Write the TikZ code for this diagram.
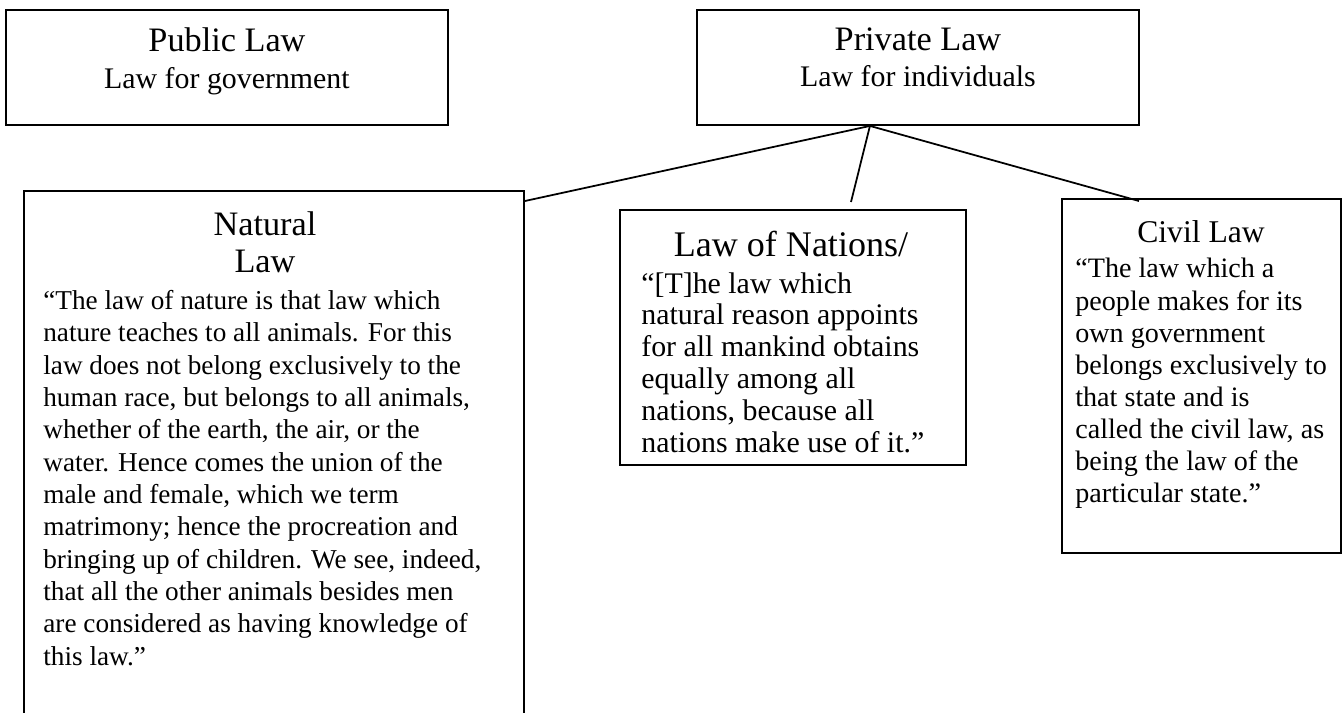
\documentclass[tikz,border=0pt]{standalone}
\usepackage{fontspec}
\setmainfont{Liberation Serif}
\usetikzlibrary{calc}
\newcommand{\ttlfont}{\fontsize{19.5}{21}\selectfont}
\newcommand{\subfont}{\fontsize{17}{20}\selectfont}

\begin{document}
\begin{tikzpicture}[
  lawbox/.style={draw,line width=1.1pt,anchor=north west,inner sep=0pt},
  topbox/.style={lawbox,minimum width=8.84cm,minimum height=2.3cm},
  lawtitle/.style={anchor=north,inner sep=0pt,align=center,font=\ttlfont},
  lawtext/.style={anchor=north west,inner sep=0pt,align=left}
]
\useasboundingbox (0,0) rectangle (26.84,-14.26);
\clip (0,0) rectangle (26.84,-14.26);

% two kinds of law
\node[topbox] (pub) at (0.1,-0.18) {};
\node[lawtitle] (pubT) at ([yshift=-0.36cm]pub.north) {Public Law\\{\subfont Law for government}};
\node[topbox] (priv) at (13.92,-0.18) {};
\node[lawtitle] (privT) at ([yshift=-0.36cm]priv.north) {Private Law\\{\subfont Law for individuals}};

% natural law (runs off the page)
\node[lawbox,minimum width=10cm,minimum height=10.8cm] (nat) at (0.46,-3.8) {};
\node[lawtitle] (natT) at (5.3,-4.22) {Natural\\Law};
\node[lawtext,font=\fontsize{15.5}{18.4}\selectfont] (natB) at (0.86,-5.8)
 {``The law of nature is that law which\\
  nature teaches to all animals. For this\\
  law does not belong exclusively to the\\
  human race, but belongs to all animals,\\
  whether of the earth, the air, or the\\
  water. Hence comes the union of the\\
  male and female, which we term\\
  matrimony; hence the procreation and\\
  bringing up of children. We see, indeed,\\
  that all the other animals besides men\\
  are considered as having knowledge of\\
  this law.''};

% law of nations
\node[lawbox,minimum width=6.92cm,minimum height=5.1cm] (gent) at (12.38,-4.18) {};
\node[lawtitle,font=\fontsize{20.5}{22}\selectfont] (gentT) at (15.82,-4.62) {Law of Nations/};
\node[lawtext,font=\fontsize{17}{18.1}\selectfont] (gentB) at (12.82,-5.44)
 {``[T]he law which\\
  natural reason appoints\\
  for all mankind obtains\\
  equally among all\\
  nations, because all\\
  nations make use of it.''};

% civil law
\node[lawbox,minimum width=5.58cm,minimum height=7.08cm] (civ) at (21.22,-3.96) {};
\node[lawtitle,font=\fontsize{18}{20}\selectfont] (civT) at (24.02,-4.4) {Civil Law};
\node[lawtext,font=\fontsize{16}{18.3}\selectfont] (civB) at (21.5,-5.16)
 {``The law which a\\
  people makes for its\\
  own government\\
  belongs exclusively to\\
  that state and is\\
  called the civil law, as\\
  being the law of the\\
  particular state.''};

% branches of private law
\coordinate (hub) at ([xshift=-0.96cm]priv.south);
\draw[line width=1pt] (hub) -- ([yshift=-0.22cm]nat.north east);
\draw[line width=1pt] (hub) -- ([xshift=1.16cm,yshift=0.14cm]gent.north);
\draw[line width=1pt] (hub) -- ([xshift=-1.25cm,yshift=-0.06cm]civ.north);
\end{tikzpicture}
\end{document}
